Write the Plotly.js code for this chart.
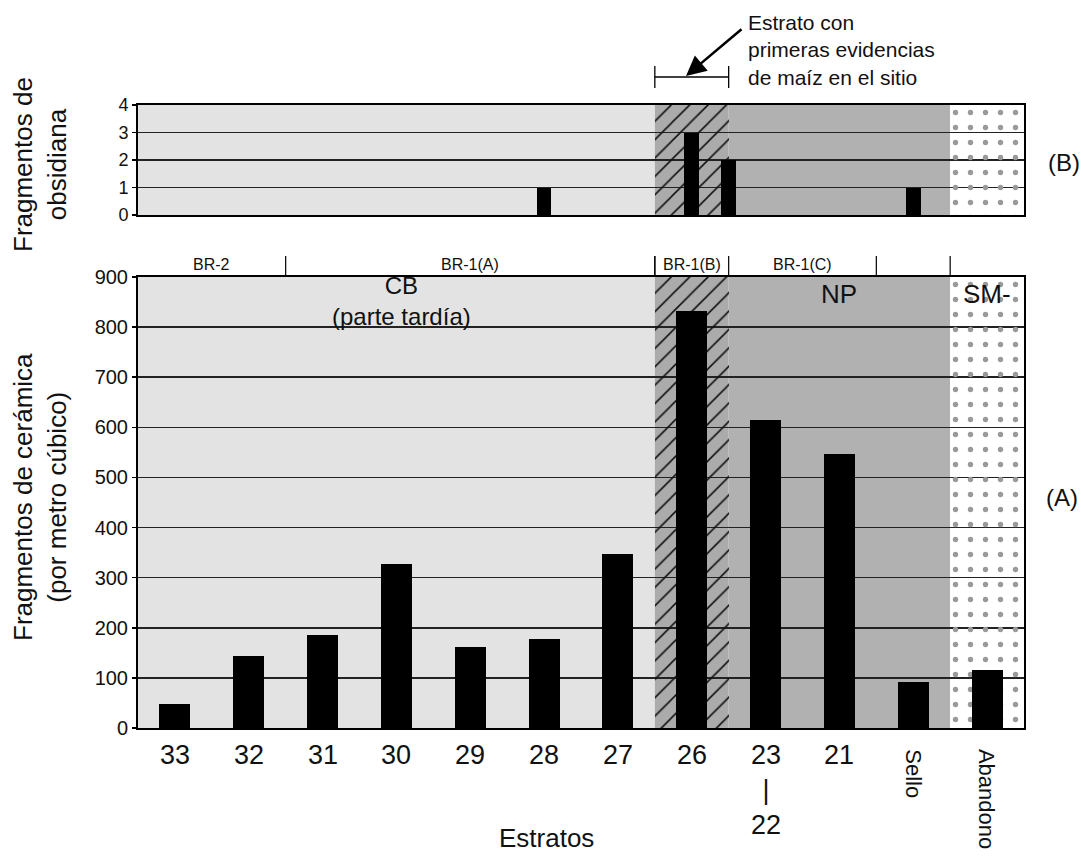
<!DOCTYPE html>
<html><head><meta charset="utf-8">
<script src="https://cdn.plot.ly/plotly-3.0.1.min.js"></script>
<style>html,body{margin:0;padding:0;background:#fff}</style>
</head><body>
<div id="chart" style="width:1083px;height:862px"></div>
<script>
// ---- data ----
const categories = ['33','32','31','30','29','28','27','26','23<br>|<br>22','21','Sello','Abandono'];
const ceramica = [48, 144, 186, 327, 162, 177, 347, 833, 615, 547, 92, 116];
const obsidianaPos = [5, 7, 7.5, 10];   // stratum index (7.5 = between 26 and 23)
const obsidiana = [1, 3, 2, 1];
const bandLabels = ['BR-2', 'BR-1(A)', 'BR-1(B)', 'BR-1(C)', ''];
const bandSpans = [[0,1],[2,6],[7,7],[8,9],[10,10]];
const zoneKinds = ['light','hatch','dark','dots'];
const zoneSpans = [[0,6],[7,7],[8,10],[11,11]];
const zoneText = ['', '', 'NP', 'SM-'];

// ---- geometry helpers (pixel -> paper) ----
const L = 138, R = 1024, T = 105, B = 728, W = 1083, H = 862;
const px = v => (v - L) / (R - L);
const py = v => (B - v) / (B - T);
const FONT = 'Liberation Sans, Arial, sans-serif';
const idx = categories.map((c, i) => i);
const yMaxA = 900, yMaxB = 4;

const zoneColor = {light:'#e3e3e3', hatch:'#ababab', dark:'#b1b1b1', dots:'#ffffff'};
const shapes = [];
zoneKinds.forEach((k, i) => {
  ['y domain', 'y2 domain'].forEach((yr, j) => {
    shapes.push({type:'rect', layer:'below', xref: j ? 'x2' : 'x', yref: yr,
      x0: zoneSpans[i][0] - 0.5, x1: zoneSpans[i][1] + 0.5, y0: 0, y1: 1,
      fillcolor: zoneColor[k], line:{width:0}});
  });
});
// band separators
bandSpans.forEach(s => {
  shapes.push({type:'line', xref:'x', yref:'paper', x0: s[1] + 0.5, x1: s[1] + 0.5,
    y0: py(277), y1: py(256), line:{color:'#000', width:1.2}});
});
shapes.push({type:'line', xref:'x', yref:'paper', x0: bandSpans[2][0] - 0.5, x1: bandSpans[2][0] - 0.5,
  y0: py(277), y1: py(256), line:{color:'#000', width:1.2}});
// bracket over the maize stratum
const mz = bandSpans[2][0];
shapes.push({type:'line', xref:'x', yref:'paper', x0: mz - 0.5, x1: mz + 0.5, y0: py(77), y1: py(77), line:{color:'#000', width:1.3}});
[mz - 0.5, mz + 0.5].forEach(xv => shapes.push({type:'line', xref:'x', yref:'paper', x0: xv, x1: xv, y0: py(66), y1: py(88), line:{color:'#000', width:1.3}}));

// pattern traces (transparent background over shapes)
const patKinds = zoneKinds.map((k, i) => ({k, i})).filter(o => o.k === 'hatch' || o.k === 'dots');
const patX = patKinds.map(o => (zoneSpans[o.i][0] + zoneSpans[o.i][1]) / 2);
const patW = patKinds.map(o => zoneSpans[o.i][1] - zoneSpans[o.i][0] + 1);
const patShape = patKinds.map(o => o.k === 'hatch' ? '/' : '.');
const patFg = patKinds.map(o => o.k === 'hatch' ? '#111' : '#9a9a9a');
const patSize = patKinds.map(o => o.k === 'hatch' ? 13 : 15);
const patSol = patKinds.map(o => o.k === 'hatch' ? 0.12 : 0.1);
function patTrace(xa, ya, ymax) {
  return {type:'bar', x: patX, y: patX.map(() => ymax), width: patW, xaxis: xa, yaxis: ya,
    marker:{color:'rgba(0,0,0,0)', line:{width:0},
      pattern:{shape: patShape, fgcolor: patFg, size: patSize, solidity: patSol, fillmode:'replace'}},
    hoverinfo:'skip', showlegend:false};
}

const traces = [
  patTrace('x', 'y', yMaxA),
  patTrace('x2', 'y2', yMaxB),
  {type:'bar', x: idx, y: ceramica, width: 0.42, marker:{color:'#000', line:{width:0}},
   xaxis:'x', yaxis:'y', showlegend:false, hoverinfo:'skip'},
  {type:'bar', x: obsidianaPos, y: obsidiana, width: 0.2, marker:{color:'#000', line:{width:0}},
   xaxis:'x2', yaxis:'y2', showlegend:false, hoverinfo:'skip'}
];

const ann = [];
function txt(o) { return Object.assign({showarrow:false, xanchor:'center', yanchor:'middle'}, o); }
// x tick labels
categories.forEach((c, i) => {
  const rot = (c === 'Sello' || c === 'Abandono');
  ann.push(txt({xref:'x', yref:'paper', x: i, y: py(rot ? 747 : 738), yanchor:'top',
    text: c, textangle: rot ? 90 : 0,
    font:{family: FONT, size: rot ? 22 : 27, color:'#111'}}));
});
// band labels
bandLabels.forEach((b, i) => {
  if (!b) return;
  ann.push(txt({xref:'x', yref:'paper', x: (bandSpans[i][0] + bandSpans[i][1]) / 2, y: py(264),
    text: b, font:{family: FONT, size: 16, color:'#111'}}));
});
// zone texts
zoneText.forEach((t, i) => {
  if (!t) return;
  ann.push(txt({xref:'x', yref:'paper', x: (zoneSpans[i][0] + zoneSpans[i][1]) / 2, y: py(294),
    text: t, font:{family: FONT, size: 26, color:'#111'}}));
});
ann.push(txt({xref:'paper', yref:'paper', x: px(401), y: py(301), text:'CB<br>(parte tardía)', font:{family: FONT, size: 24, color:'#111'}}));
// side labels
ann.push(txt({xref:'paper', yref:'paper', x: px(1062), y: py(497), text:'(A)', font:{family: FONT, size: 24, color:'#111'}}));
ann.push(txt({xref:'paper', yref:'paper', x: px(1064), y: py(162), text:'(B)', font:{family: FONT, size: 24, color:'#111'}}));
// axis titles
ann.push(txt({xref:'paper', yref:'paper', x: px(40), y: py(497), text:'Fragmentos de cerámica<br>(por metro cúbico)', textangle:-90,
  font:{family: FONT, size: 26, color:'#111'}}));
ann.push(txt({xref:'paper', yref:'paper', x: px(40), y: py(165), text:'Fragmentos de<br>obsidiana', textangle:-90,
  font:{family: FONT, size: 26, color:'#111'}}));
ann.push(txt({xref:'paper', yref:'paper', x: px(546), y: py(838), text:'Estratos', font:{family: FONT, size: 26, color:'#111'}}));
// maize note + arrow
ann.push(txt({xref:'paper', yref:'paper', x: px(746), y: py(50), xanchor:'left', yanchor:'middle', align:'left',
  text:'Estrato con<br>primeras evidencias<br>de maíz en el sitio',
  font:{family: FONT, size: 21, color:'#111'}}));
ann.push({xref:'paper', yref:'paper', x: px(686), y: py(76), text:'', showarrow:true,
  ax: 57, ay: -48, arrowhead: 2, arrowsize: 1.6, arrowwidth: 2.5, arrowcolor:'#000', standoff: 0, startstandoff: 0});

const axisCommon = {showline:true, mirror:true, linecolor:'#000', linewidth:2, layer:'above traces', zeroline:false};
const layout = {
  width: W, height: H,
  margin:{l: L, r: W - R, t: T, b: H - B, pad: 0},
  paper_bgcolor:'#fff', plot_bgcolor:'#fff',
  barmode:'overlay', bargap: 0,
  font:{family: FONT, color:'#111'},
  showlegend:false,
  xaxis: Object.assign({}, axisCommon, {range:[-0.5, categories.length - 0.5], showticklabels:false, ticks:'', showgrid:false, anchor:'y'}),
  xaxis2: Object.assign({}, axisCommon, {range:[-0.5, categories.length - 0.5], showticklabels:false, ticks:'', showgrid:false, anchor:'y2', matches:'x'}),
  yaxis: Object.assign({}, axisCommon, {domain:[0, py(277)], range:[0, yMaxA], dtick:100, tick0:0,
    ticks:'outside', ticklen:4, tickwidth:1.5, tickcolor:'#000', showgrid:true, gridcolor:'#222', gridwidth:1.5,
    tickfont:{family: FONT, size: 20, color:'#111'}, anchor:'x'}),
  yaxis2: Object.assign({}, axisCommon, {domain:[py(215), 1], range:[0, yMaxB], dtick:1, tick0:0,
    ticks:'outside', ticklen:4, tickwidth:1.5, tickcolor:'#000', showgrid:true, gridcolor:'#222', gridwidth:1.5,
    tickfont:{family: FONT, size: 18, color:'#111'}, anchor:'x2'}),
  shapes: shapes,
  annotations: ann
};
Plotly.newPlot('chart', traces, layout, {displayModeBar:false, staticPlot:true});
</script>
</body></html>
